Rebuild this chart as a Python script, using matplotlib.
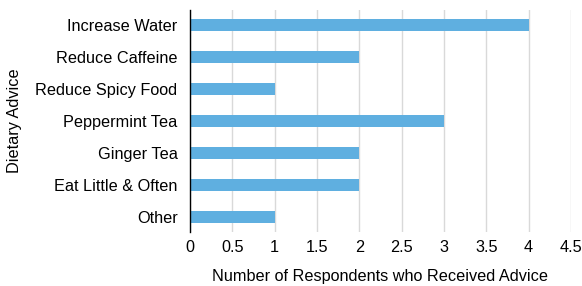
import numpy as np
import matplotlib.pyplot as plt

plt.rcParams['font.family'] = ['Liberation Sans', 'DejaVu Sans']

advice = ['Increase Water', 'Reduce Caffeine', 'Reduce Spicy Food', 'Peppermint Tea',
          'Ginger Tea', 'Eat Little & Often', 'Other']
respondents = [4, 2, 1, 3, 2, 2, 1]

fig = plt.figure(figsize=(5.82, 2.86), dpi=100)
ax = fig.add_axes([0.3265, 0.189, 0.6545, 0.776])

index = np.arange(len(advice))
ax.barh(index, respondents, height=0.375, color='#5fafe0', zorder=2)

ax.set_xlim(0, 4.5)
ax.set_ylim(6.47, -0.47)
ax.set_xticks(np.arange(0, 4.51, 0.5))
ax.set_xticklabels(['0', '0.5', '1', '1.5', '2', '2.5', '3', '3.5', '4', '4.5'])
ax.set_yticks(index)
ax.set_yticklabels(advice)
ax.tick_params(axis='y', length=0, labelsize=11.7, pad=9)
ax.tick_params(axis='x', length=0, labelsize=11.7, pad=6)
ax.xaxis.grid(True, color='#d9d9d9', linewidth=1, zorder=0)
for s in ['top', 'right', 'bottom']:
    ax.spines[s].set_visible(False)
ax.spines['left'].set_color('black')
ax.spines['left'].set_linewidth(1)
ax.spines['left'].set_zorder(3)

ax.set_xlabel('Number of Respondents who Received Advice', fontsize=11.7, labelpad=10)
ax.set_ylabel('Dietary Advice', fontsize=11.7, labelpad=10)

fig.savefig('out.png', dpi=100)
